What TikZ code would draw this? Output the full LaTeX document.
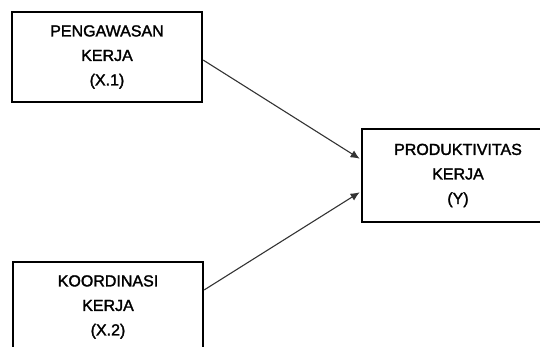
\documentclass[tikz,border=0pt]{standalone}
\usepackage{fontspec}
\setmainfont{Liberation Sans}
\newfontfamily\boxfont[FakeBold=1.8]{Liberation Sans}
\usepackage{tikz}
\usetikzlibrary{arrows.meta,positioning}
\tikzset{
  varbox/.style={
    draw=black,
    line width=2.2pt,
    fill=white,
    minimum width=190pt,
    minimum height=90pt,
    align=center,
    inner sep=0pt,
    font=\boxfont\fontsize{16}{24.5}\selectfont
  },
  arrow/.style={
    -{Latex[length=9pt,width=8pt]},
    line width=1.1pt,
    draw=black!80,
    shorten >=1.5pt
  }
}
\begin{document}
\begin{tikzpicture}[x=1pt,y=-1pt]
\useasboundingbox (0,0) rectangle (540,347);
\clip (0,0) rectangle (540,347);
\node[varbox] (pengawasan) at (107,57) {PENGAWASAN\\KERJA\\(X.1)};
\node[varbox] (koordinasi) at (108,307) {KOORDINASI\\KERJA\\(X.2)};
\node[varbox, minimum width=192pt, minimum height=93pt] (produktivitas) at (458,175.5) {PRODUKTIVITAS\\KERJA\\(Y)};
\draw[arrow] ([yshift=-3pt]pengawasan.east) -- ([yshift=16pt]produktivitas.west);
\draw[arrow] ([yshift=17pt]koordinasi.east) -- ([yshift=-16pt]produktivitas.west);
\end{tikzpicture}
\end{document}
